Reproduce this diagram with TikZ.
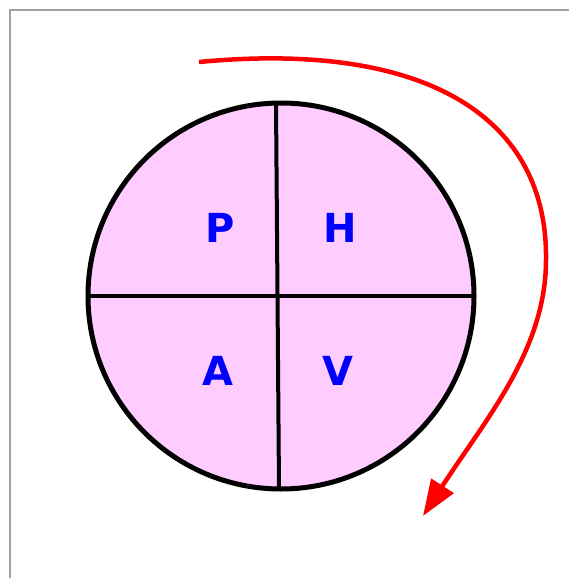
\documentclass[tikz,border=0pt]{standalone}
\usepackage{fontspec}
\setmainfont{DejaVu Sans}
\usetikzlibrary{arrows.meta}
\definecolor{pinkfill}{RGB}{255,204,255}
\definecolor{framegray}{RGB}{160,160,160}
\tikzset{
  letter/.style={text=blue, font=\fontsize{40}{40}\selectfont\bfseries, inner sep=0pt},
  divider/.style={draw=black, line width=4pt},
  flow/.style={draw=red, line width=4.5pt, -{Triangle[length=36pt,width=26pt]}},
}
\begin{document}
\begin{tikzpicture}[x=1pt,y=-1pt]
\useasboundingbox (0,0) rectangle (569,578);
\fill[white] (0,0) rectangle (569,578);
% frame
\draw[framegray, line width=2pt] (10,578) -- (10,10) -- (569,10);
% circle
\node[circle, draw=black, fill=pinkfill, line width=5pt, minimum size=386pt, inner sep=0pt] (c) at (281,296) {};
\coordinate (vt) at (276,103);
\coordinate (vb) at (279,489);
\coordinate (hl) at (88,296);
\coordinate (hr) at (474,296);
\draw[divider] (vt) -- (vb);
\draw[divider] (hl) -- (hr);
% letters
\node[letter] (p) at (220,228) {P};
\node[letter] (h) at (340,228) {H};
\node[letter] (a) at (218,371) {A};
\node[letter] (v) at (338,371) {V};
% arrow
\coordinate (s) at (199,62);
\coordinate (m) at (546,260);
\coordinate (e) at (423,516);
\draw[flow] (s) .. controls (430,40) and (548,120) .. (m) .. controls (546,350) and (485,420) .. (e);
\end{tikzpicture}
\end{document}
